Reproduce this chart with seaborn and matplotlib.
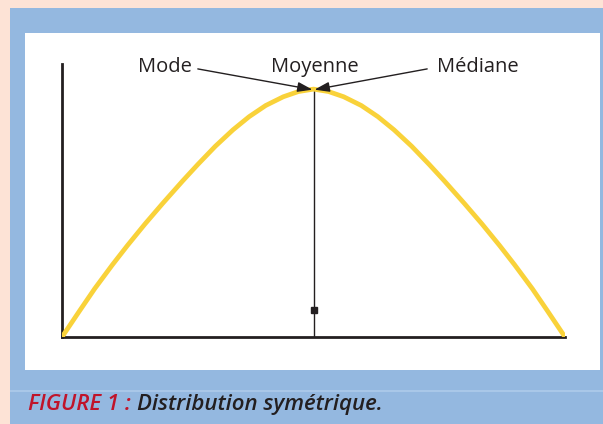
import matplotlib
matplotlib.use("Agg")
import matplotlib.pyplot as plt
from matplotlib.patches import Rectangle
import seaborn as sns
import pandas as pd

# Courbe symétrique (x: 0-100, y: 0-100)
curve_x = [0, 3.5, 6.5, 10, 13, 16.5, 20, 24, 27, 30.5, 34, 37.2, 40.5, 44, 47, 50,
           53, 56, 59.5, 62.8, 66, 69.5, 73, 76, 80, 83.5, 87, 90, 93.5, 96.5, 100]
curve_y = [0, 9.6, 17.7, 26.4, 33.5, 41.4, 48.9, 57.2, 63.2, 69.9, 75.9, 80.7, 84.8, 88.0, 89.9, 90.8,
           89.9, 88.0, 84.8, 80.7, 75.9, 69.9, 63.2, 57.2, 48.9, 41.4, 33.5, 26.4, 17.7, 9.6, 0]

labels = ["Mode", "Moyenne", "Médiane"]
center_x = 50.0
peak_y = 90.8
marker_y = 9.9

W, H = 603, 424
sns.set_style("white")
plt.rcParams['font.family'] = ['Open Sans', 'DejaVu Sans']

fig = plt.figure(figsize=(W / 100, H / 100), dpi=100)
fig.patch.set_facecolor("#94b8e0")

def px_rect(x0, y0, x1, y1, color, z=0):
    fig.patches.append(Rectangle((x0 / W, 1 - y1 / H), (x1 - x0) / W, (y1 - y0) / H,
                                 transform=fig.transFigure, facecolor=color,
                                 edgecolor="none", zorder=z))

# cadres
px_rect(0, 0, W, 8, "#fde3d6")
px_rect(0, 0, 10, H, "#fde3d6")
px_rect(25, 33, 600, 370, "white")
px_rect(10, 390, W, 392, "#a9c7e8")

ax = fig.add_axes([62 / W, 1 - 337 / H, (565 - 62) / W, (337 - 64) / H])
ax.set_zorder(5)
ax.set_facecolor("none")
df = pd.DataFrame({"x": curve_x, "y": curve_y})
sns.lineplot(data=df, x="x", y="y", ax=ax, color="#f9d23a", linewidth=3.4,
             solid_capstyle="round", solid_joinstyle="round", zorder=3)

ax.plot([center_x, center_x], [0, peak_y], color="#231f20", linewidth=1, zorder=2)
ax.plot([center_x], [marker_y], marker="s", markersize=5, color="#231f20", zorder=4)

ax.set_xlim(0, 100)
ax.set_ylim(0, 100)
ax.set_xticks([])
ax.set_yticks([])
ax.set_xlabel("")
ax.set_ylabel("")
sns.despine(ax=ax)
for s in ["left", "bottom"]:
    ax.spines[s].set_color("#231f20")
    ax.spines[s].set_linewidth(2)

txt = dict(fontsize=14.5, color="#231f20", va="baseline", clip_on=False)
ax.text(25.8, 97.1, labels[0], ha="right", **txt)
ax.text(50.3, 97.1, labels[1], ha="center", **txt)
ax.text(74.6, 97.1, labels[2], ha="left", **txt)

arrow = dict(arrowstyle="-|>,head_length=0.9,head_width=0.3", color="#231f20",
             linewidth=1, shrinkA=0, shrinkB=0)
ax.annotate("", xy=(49.8, 90.6), xytext=(27.0, 98.2), arrowprops=arrow,
            annotation_clip=False)
ax.annotate("", xy=(50.2, 90.6), xytext=(72.6, 98.2), arrowprops=arrow,
            annotation_clip=False)

cap = fig.text(28 / W, 1 - 410 / H, "FIGURE 1 : ", color="#c0142a", fontsize=16,
               fontstyle="italic", fontweight="semibold", va="baseline")
fig.canvas.draw()
bb = cap.get_window_extent()
fig.text(bb.x1 / W, 1 - 410 / H, "Distribution symétrique.", color="#231f20",
         fontsize=16, fontstyle="italic", fontweight="semibold", va="baseline")

fig.savefig("out.png", dpi=100, facecolor=fig.get_facecolor())
